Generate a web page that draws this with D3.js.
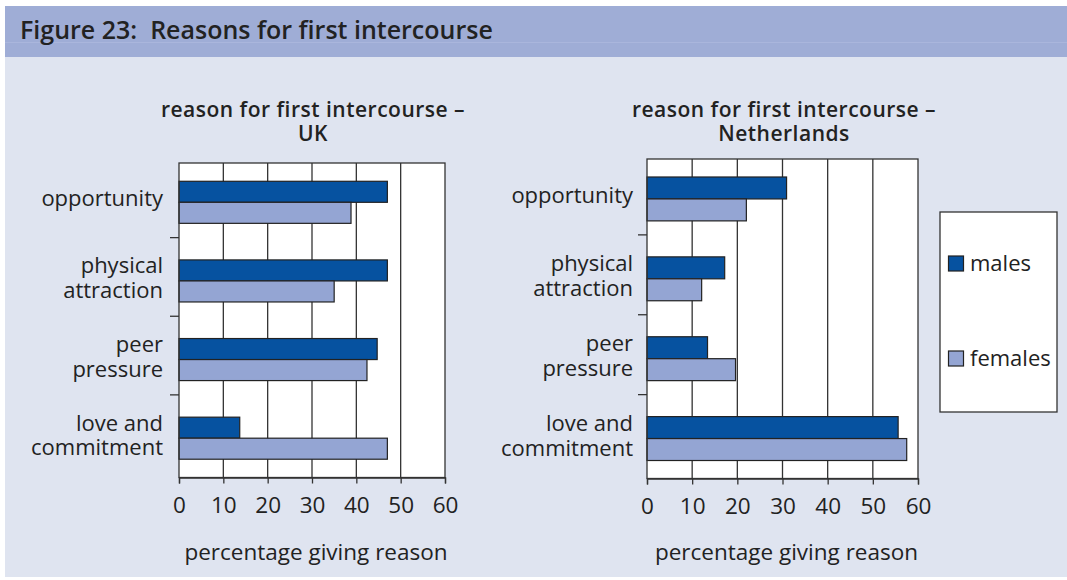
<!DOCTYPE html>
<html><head><meta charset="utf-8">
<script src="https://cdn.jsdelivr.net/npm/d3@7/dist/d3.min.js"></script>
<style>
html,body{margin:0;padding:0;background:#fff;}
svg{display:block;font-family:"Open Sans",sans-serif;}
</style></head><body>
<script>
// ---- data ----
const categories = ["opportunity", "physical attraction", "peer pressure", "love and commitment"];
const categoryLines = [["opportunity"], ["physical", "attraction"], ["peer", "pressure"], ["love and", "commitment"]];
const seriesNames = ["males", "females"];
const ukMales = [47, 47, 44.7, 13.7];
const ukFemales = [38.8, 35, 42.4, 47];
const nlMales = [30.9, 17.2, 13.4, 55.6];
const nlFemales = [22, 12.1, 19.6, 57.5];
const xTicks = [0, 10, 20, 30, 40, 50, 60];
const figureTitle = "Figure 23:\u00a0 Reasons for first intercourse";
const ukTitle = ["reason for first intercourse \u2013", "UK"];
const nlTitle = ["reason for first intercourse \u2013", "Netherlands"];
const axisTitle = "percentage giving reason";

const colors = {males: "#0652a0", females: "#94a5d3"};
const W = 1067, H = 580;
const svg = d3.select("body").append("svg").attr("width", W).attr("height", H);

// background panels
svg.append("rect").attr("x", 5).attr("y", 6).attr("width", W - 5).attr("height", 571).attr("fill", "#dfe4f0");
svg.append("rect").attr("x", 5).attr("y", 6).attr("width", W - 5).attr("height", 51).attr("fill", "#9fadd6");
svg.append("line").attr("x1", 5).attr("x2", W).attr("y1", 42.5).attr("y2", 42.5).attr("stroke", "#aab6dc").attr("stroke-width", 1);
svg.append("text").attr("x", 20).attr("y", 39).attr("font-size", 25).attr("font-weight", 600)
  .attr("fill", "#222").text(figureTitle);

function panel(cfg) {
  const {left, right, top, bottom, males, females, title, titleX, labelRight, barPadOuter} = cfg;
  const g = svg.append("g");
  const x = d3.scaleLinear().domain([0, 60]).range([left, right]);
  const y = d3.scaleBand().domain(categories).range([top, bottom]).padding(0);
  const ys = d3.scaleBand().domain(seriesNames).range([0, y.bandwidth()]).paddingInner(0).paddingOuter(barPadOuter);

  // plot background
  g.append("rect").attr("x", left).attr("y", top).attr("width", right - left).attr("height", bottom - top)
    .attr("fill", "#fff");
  // gridlines
  g.append("g").selectAll("line").data(xTicks.slice(1, -1)).join("line")
    .attr("x1", d => x(d)).attr("x2", d => x(d)).attr("y1", top).attr("y2", bottom)
    .attr("stroke", "#333").attr("stroke-width", 1.3);
  // bars
  const data = categories.map((c, i) => ({c, males: males[i], females: females[i]}));
  const grp = g.append("g").selectAll("g").data(data).join("g")
    .attr("transform", d => `translate(0,${y(d.c)})`);
  grp.selectAll("rect").data(d => seriesNames.map(s => ({s, v: d[s]}))).join("rect")
    .attr("x", x(0)).attr("y", d => ys(d.s)).attr("width", d => x(d.v) - x(0)).attr("height", ys.bandwidth())
    .attr("fill", d => colors[d.s]).attr("stroke", "#222").attr("stroke-width", 1.2);
  // plot border
  g.append("rect").attr("x", left).attr("y", top).attr("width", right - left).attr("height", bottom - top)
    .attr("fill", "none").attr("stroke", "#333").attr("stroke-width", 1.3);
  // x axis
  const ax = g.append("g").attr("transform", `translate(0,${bottom})`)
    .call(d3.axisBottom(x).tickValues(xTicks).tickSize(6).tickPadding(14).tickFormat(d3.format("d")));
  ax.select(".domain").attr("stroke", "#333").attr("stroke-width", 1.3);
  ax.selectAll(".tick line").attr("stroke", "#333").attr("stroke-width", 1.3);
  ax.selectAll(".tick text").attr("font-size", 22.5).attr("fill", "#222").attr("font-family", "'Open Sans',sans-serif");
  // category separators (y ticks)
  g.append("g").selectAll("line").data(categories.slice(1)).join("line")
    .attr("x1", left - 9).attr("x2", left).attr("y1", d => y(d) - 4).attr("y2", d => y(d) - 4)
    .attr("stroke", "#333").attr("stroke-width", 1.3);
  // category labels
  categories.forEach((c, i) => {
    const lines = categoryLines[i];
    const cy = y(c) + y.bandwidth() / 2;
    const t = g.append("text").attr("text-anchor", "end").attr("font-size", 22).attr("fill", "#222");
    lines.forEach((l, j) => {
      const off = lines.length === 1 ? 4 : (j === 0 ? -7.5 : 17);
      t.append("tspan").attr("x", labelRight).attr("y", cy + off).text(l);
    });
  });
  // title
  const tt = g.append("text").attr("text-anchor", "middle").attr("font-size", 21).attr("font-weight", 600)
    .attr("letter-spacing", 0.5).attr("fill", "#222");
  title.forEach((l, j) => tt.append("tspan").attr("x", titleX).attr("y", 117 + j * 23.5).text(l));
  // axis title
  g.append("text").attr("x", (left + right) / 2 + 4).attr("y", 560).attr("text-anchor", "middle")
    .attr("font-size", 22.5).attr("fill", "#222").text(axisTitle);
}

panel({left: 179, right: 445, top: 163, bottom: 477.5, males: ukMales, females: ukFemales,
  title: ukTitle, titleX: 313, labelRight: 163, barPadOuter: 0.87});
panel({left: 647, right: 918, top: 159, bottom: 478.5, males: nlMales, females: nlFemales,
  title: nlTitle, titleX: 784, labelRight: 633, barPadOuter: 0.82});

// legend
const lg = svg.append("g");
lg.append("rect").attr("x", 940).attr("y", 212).attr("width", 117).attr("height", 200)
  .attr("fill", "#fff").attr("stroke", "#333").attr("stroke-width", 1.3);
const legendY = d3.scalePoint().domain(seriesNames).range([256, 351]);
seriesNames.forEach(s => {
  lg.append("rect").attr("x", 948.5).attr("y", legendY(s)).attr("width", 15).attr("height", 15)
    .attr("fill", colors[s]).attr("stroke", "#222").attr("stroke-width", 1.2);
  lg.append("text").attr("x", 970).attr("y", legendY(s) + 15).attr("font-size", 22).attr("fill", "#222").text(s);
});
</script>
</body></html>
